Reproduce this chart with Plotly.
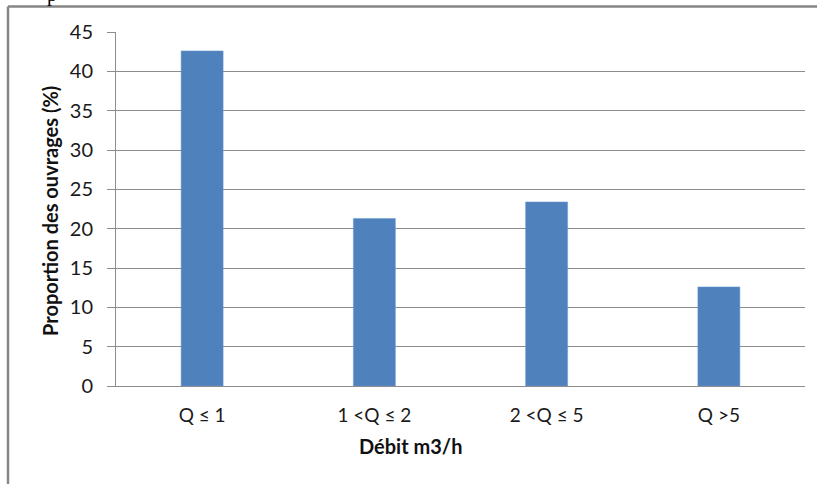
import plotly.graph_objects as go

categories = ["Q ≤ 1", "1 <Q ≤ 2", "2 <Q ≤ 5", "Q >5"]
values = [42.6, 21.3, 23.4, 12.6]
y_ticks = [0, 5, 10, 15, 20, 25, 30, 35, 40, 45]

W, H = 817, 484
L, R, T, B = 116, 12, 32, 98
pw, ph = W - L - R, H - T - B

def px(x):
    return (x - L) / pw

def py(y):
    return (H - B - y) / ph

FONT = "Lato, Open Sans, sans-serif"
GRID = "#8c8c8c"

fig = go.Figure(go.Bar(
    x=categories, y=values,
    marker=dict(color="#4f81bd", line=dict(color="#6f9ad0", width=0.5)),
))

fig.update_layout(
    width=W, height=H,
    margin=dict(l=L, r=R, t=T, b=B),
    paper_bgcolor="white", plot_bgcolor="white",
    bargap=0.756,
    showlegend=False,
    font=dict(family=FONT, size=19, color="#1a1a1a"),
    xaxis=dict(
        showline=True, linecolor=GRID, linewidth=1,
        ticks="", showgrid=False,
        tickfont=dict(family=FONT, size=19, color="#1a1a1a"),
        ticklabelstandoff=12,
    ),
    yaxis=dict(
        range=[0, 45], tickvals=y_ticks,
        showline=True, linecolor=GRID, linewidth=1,
        showgrid=True, gridcolor=GRID, gridwidth=1,
        ticks="outside", ticklen=8, tickcolor=GRID,
        tickfont=dict(family=FONT, size=20, color="#1a1a1a"),
        ticklabelstandoff=10,
        zeroline=False,
    ),
    shapes=[
        dict(type="line", xref="paper", yref="paper",
             x0=px(8), x1=px(817), y0=py(6.5), y1=py(6.5),
             line=dict(color="#868686", width=2.5)),
        dict(type="line", xref="paper", yref="paper",
             x0=px(8), x1=px(8), y0=py(6.5), y1=py(484),
             line=dict(color="#868686", width=2.5)),
    ],
    annotations=[
        dict(text="<b>Proportion des ouvrages (%)</b>", xref="paper", yref="paper",
             x=px(50), y=py(211), textangle=-90, showarrow=False,
             xanchor="center", yanchor="middle",
             font=dict(family=FONT, size=20, color="#111111")),
        dict(text="<b>Débit m3/h</b>", xref="paper", yref="paper",
             x=px(410), y=py(446), showarrow=False,
             xanchor="center", yanchor="middle",
             font=dict(family=FONT, size=20, color="#111111")),
        dict(text="p", xref="paper", yref="paper",
             x=px(52), y=py(8), showarrow=False,
             xanchor="center", yanchor="bottom",
             font=dict(family="Liberation Serif", size=20, color="black")),
    ],
)

fig.write_html("out.html", config={"displayModeBar": False},
               post_script="document.body.style.margin='0';")
